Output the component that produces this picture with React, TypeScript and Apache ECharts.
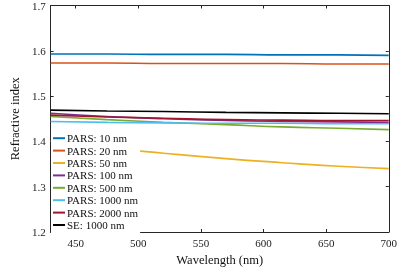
import React, { useEffect, useRef } from "react";
import * as echarts from "echarts";

const wavelengths = [430, 475, 520, 570, 615, 660, 700];
const seriesNames = [
  "PARS: 10 nm",
  "PARS: 20 nm",
  "PARS: 50 nm",
  "PARS: 100 nm",
  "PARS: 500 nm",
  "PARS: 1000 nm",
  "PARS: 2000 nm",
  "SE: 1000 nm",
];
const pars10 = [1.593, 1.593, 1.592, 1.592, 1.591, 1.591, 1.59];
const pars20 = [1.573, 1.573, 1.572, 1.572, 1.572, 1.571, 1.571];
const pars50 = [1.401, 1.386, 1.374, 1.362, 1.353, 1.345, 1.34];
const pars100 = [1.462, 1.455, 1.45, 1.446, 1.444, 1.443, 1.442];
const pars500 = [1.455, 1.448, 1.442, 1.437, 1.432, 1.429, 1.426];
const pars1000 = [1.444, 1.442, 1.441, 1.44, 1.44, 1.439, 1.439];
const pars2000 = [1.458, 1.454, 1.451, 1.448, 1.447, 1.446, 1.446];
const se1000 = [1.469, 1.467, 1.466, 1.464, 1.463, 1.462, 1.461];
const allValues = [pars10, pars20, pars50, pars100, pars500, pars1000, pars2000, se1000];
const colors = ["#0072BD", "#D95319", "#EDB120", "#7E2F8E", "#77AC30", "#4DBEEE", "#A2142F", "#000000"];
const xTicks = [450, 500, 550, 600, 650, 700];

const FONT = "'Liberation Serif', 'Times New Roman', serif";
const AXIS_COLOR = "#262626";

export default function App() {
  const ref = useRef<HTMLDivElement>(null);
  useEffect(() => {
    if (!ref.current) return;
    const chart = echarts.init(ref.current, null, { renderer: "svg" });
    const axisCommon = {
      axisLine: { show: true, lineStyle: { color: AXIS_COLOR, width: 1 } },
      axisTick: { show: true, inside: true, length: 3, lineStyle: { color: AXIS_COLOR } },
      splitLine: { show: false },
    };
    chart.setOption({
      animation: false,
      grid: { left: 44, right: 10, top: 5, bottom: 35 },
      legend: {
        orient: "vertical",
        left: 51,
        top: 130,
        backgroundColor: "#ffffff",
        padding: [2, 2, 2, 2],
        itemGap: 0,
        itemWidth: 12,
        itemHeight: 2,
        icon: "rect",
        data: seriesNames,
        textStyle: { fontFamily: FONT, fontSize: 11, color: "#111", padding: [0, 0, 0, -3], lineHeight: 12.4 },
      },
      xAxis: [
        {
          type: "value",
          min: 430,
          max: 700,
          name: "Wavelength (nm)",
          nameLocation: "middle",
          nameGap: 21,
          nameTextStyle: { fontFamily: FONT, fontSize: 12.5, color: "#111" },
          ...axisCommon,
          axisTick: { ...axisCommon.axisTick, customValues: xTicks },
          axisLabel: { customValues: xTicks, fontFamily: FONT, fontSize: 11, color: "#222", margin: 5 },
        },
        {
          type: "value",
          position: "top",
          min: 430,
          max: 700,
          ...axisCommon,
          axisTick: { ...axisCommon.axisTick, customValues: xTicks },
          axisLabel: { show: false },
        },
      ],
      yAxis: [
        {
          type: "value",
          min: 1.2,
          max: 1.7,
          interval: 0.1,
          name: "Refractive index",
          nameLocation: "middle",
          nameGap: 20,
          nameTextStyle: { fontFamily: FONT, fontSize: 12.5, color: "#111" },
          ...axisCommon,
          axisLabel: {
            fontFamily: FONT,
            fontSize: 11,
            color: "#222",
            margin: 5,
            formatter: (v: number) => v.toFixed(1),
          },
        },
        {
          type: "value",
          position: "right",
          min: 1.2,
          max: 1.7,
          interval: 0.1,
          ...axisCommon,
          axisLabel: { show: false },
        },
      ],
      series: seriesNames.map((name, i) => ({
        name,
        type: "line",
        smooth: true,
        showSymbol: false,
        symbol: "none",
        color: colors[i],
        lineStyle: { width: 1.6, color: colors[i] },
        data: wavelengths.map((w, j) => [w, allValues[i][j]]),
      })),
    });
    return () => chart.dispose();
  }, []);
  return (
    <div
      ref={ref}
      style={{ position: "fixed", left: 0, top: 0, width: 400, height: 271 }}
    />
  );
}
